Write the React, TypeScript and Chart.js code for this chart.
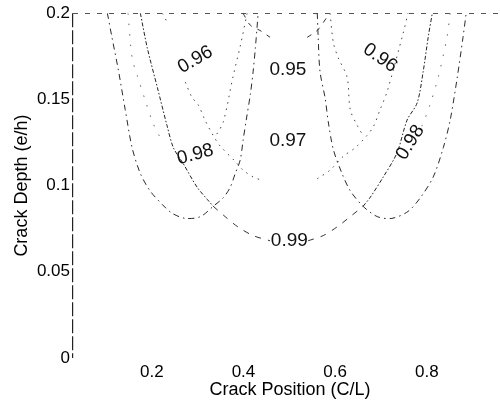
import React, { useEffect, useRef } from 'react';
import { Chart, registerables } from 'chart.js';

Chart.register(...registerables);

// ---- axes ----
const X_MIN = 0.028;
const X_MAX = 0.975;
const Y_MIN = 0;
const Y_MAX = 0.2;
const xTickValues = [0.2, 0.4, 0.6, 0.8];
const xTickLabels = ['0.2', '0.4', '0.6', '0.8'];
const yTickValues = [0, 0.05, 0.1, 0.15, 0.2];
const yTickLabels = ['0', '0.05', '0.1', '0.15', '0.2'];
const xTitle = 'Crack Position (C/L)';
const yTitle = 'Crack Depth (e/h)';

type Pt = [number, number] | null;

// ---- contour lines (crack position, crack depth) ----
const outerLeftU: Pt[] = [
  [0.103, 0.2], [0.113, 0.186], [0.127, 0.167], [0.142, 0.144], [0.157, 0.122],
  [0.175, 0.107], [0.196, 0.097], [0.223, 0.089], [0.244, 0.084], [0.273, 0.081],
  [0.306, 0.082], [0.334, 0.088], [0.356, 0.093], [0.371, 0.099], [0.382, 0.107],
  [0.393, 0.115], [0.399, 0.126], [0.406, 0.138], [0.415, 0.153], [0.421, 0.166],
  [0.426, 0.18], [0.432, 0.2],
];
const outerRightU: Pt[] = [
  [0.561, 0.2], [0.563, 0.186], [0.567, 0.166], [0.578, 0.151], [0.585, 0.137],
  [0.596, 0.121], [0.615, 0.107], [0.633, 0.097], [0.661, 0.088], [0.692, 0.082],
  [0.724, 0.081], [0.759, 0.085], [0.786, 0.093], [0.814, 0.105], [0.836, 0.122],
  [0.851, 0.138], [0.866, 0.162], [0.879, 0.186], [0.886, 0.2],
];
const level098Left: Pt[] = [
  [0.175, 0.2], [0.19, 0.18], [0.212, 0.157], [0.233, 0.135], [0.247, 0.122],
  [0.268, 0.113], [0.299, 0.099], [0.321, 0.092], [0.334, 0.088],
];
const level098Right: Pt[] = [
  [0.661, 0.088], [0.676, 0.093], [0.705, 0.105], [0.735, 0.119], [0.757, 0.138],
  [0.779, 0.148], [0.792, 0.166], [0.803, 0.186], [0.812, 0.2],
];
const level099: Pt[] = [
  [0.334, 0.088], [0.36, 0.082], [0.388, 0.076], [0.421, 0.071], [0.458, 0.068],
  null,
  [0.541, 0.068], [0.574, 0.071], [0.604, 0.076], [0.633, 0.082], [0.661, 0.088],
];
const level095: Pt[] = [
  [0.399, 0.2], [0.415, 0.193], [0.436, 0.19], [0.458, 0.186],
  null,
  [0.539, 0.186], [0.561, 0.19], [0.583, 0.198],
];
const dottedW: Pt[] = [
  [0.223, 0.2], [0.233, 0.195],
  null,
  [0.273, 0.16], [0.288, 0.151], [0.301, 0.147], [0.316, 0.138], [0.334, 0.129],
  [0.349, 0.123], [0.382, 0.114], [0.399, 0.109], [0.421, 0.105], [0.441, 0.103],
  null,
  [0.561, 0.104], [0.589, 0.109], [0.618, 0.117], [0.644, 0.122], [0.666, 0.128],
  [0.683, 0.134], [0.698, 0.144], [0.714, 0.155], [0.748, 0.188], [0.759, 0.2],
];
const dottedLeftArm: Pt[] = [
  [0.408, 0.2], [0.393, 0.181], [0.377, 0.163], [0.356, 0.137], [0.34, 0.129],
];
const dottedRightArm: Pt[] = [
  [0.589, 0.2], [0.596, 0.183], [0.607, 0.174], [0.626, 0.163], [0.633, 0.144],
  [0.648, 0.135], [0.661, 0.129],
];
const faintLeft: Pt[] = [
  [0.148, 0.2], [0.157, 0.174], [0.168, 0.164], [0.185, 0.15], [0.203, 0.136], [0.218, 0.128],
];
const faintRight: Pt[] = [
  [0.851, 0.2], [0.844, 0.186], [0.825, 0.163], [0.807, 0.147], [0.79, 0.135], [0.775, 0.128],
];

// ---- inline contour labels ----
const labelTexts = ['0.96', '0.95', '0.96', '0.98', '0.97', '0.98', '0.99'];
const labelX = [0.295, 0.497, 0.698, 0.295, 0.497, 0.764, 0.5];
const labelY = [0.173, 0.167, 0.174, 0.118, 0.126, 0.125, 0.068];
const labelAngle = [-30, 0, 35, -15, 0, -58, 0];

const FONT = '"Liberation Sans", Arial, Helvetica, sans-serif';

function toData(pts: Pt[]) {
  const out: { x: number; y: number | null }[] = [];
  let lastX = 0;
  for (const p of pts) {
    if (p) {
      out.push({ x: p[0], y: p[1] });
      lastX = p[0];
    } else {
      out.push({ x: lastX, y: null });
    }
  }
  return out;
}

function lineSet(pts: Pt[], dash: number[], color: string, width = 1) {
  return {
    data: toData(pts),
    borderColor: color,
    borderWidth: width,
    borderDash: dash,
    pointRadius: 0,
    tension: 0.3,
    fill: false,
    spanGaps: false,
  };
}

const labelPlugin = {
  id: 'contourLabels',
  afterDatasetsDraw(chart: any) {
    const { ctx, scales } = chart;
    const xs = scales.x;
    const ys = scales.y;
    ctx.save();
    ctx.font = `19px ${FONT}`;
    ctx.fillStyle = '#111';
    ctx.textAlign = 'center';
    ctx.textBaseline = 'middle';
    labelTexts.forEach((t, i) => {
      const px = xs.getPixelForValue(labelX[i]);
      const py = ys.getPixelForValue(labelY[i]);
      ctx.save();
      ctx.translate(px, py);
      ctx.rotate((labelAngle[i] * Math.PI) / 180);
      ctx.fillText(t, 0, 0);
      ctx.restore();
    });
    ctx.restore();
  },
};

function labelFor(values: number[], labels: string[], v: number) {
  for (let i = 0; i < values.length; i++) {
    if (Math.abs(values[i] - v) < 1e-6) return labels[i];
  }
  return '';
}

export default function App() {
  const ref = useRef<HTMLCanvasElement | null>(null);

  useEffect(() => {
    if (!ref.current) return;
    const chart = new Chart(ref.current, {
      type: 'line',
      data: {
        datasets: [
          lineSet(outerLeftU, [6, 4, 1.5, 4], '#2a2a2a'),
          lineSet(outerRightU, [6, 4, 1.5, 4], '#2a2a2a'),
          lineSet(level098Left, [4, 2, 1.5, 2], '#222'),
          lineSet(level098Right, [4, 2, 1.5, 2], '#222'),
          lineSet(level099, [6, 7], '#333'),
          lineSet(level095, [5, 6], '#333'),
          lineSet(dottedW, [1.5, 5], '#444'),
          lineSet(dottedLeftArm, [1.5, 5], '#444'),
          lineSet(dottedRightArm, [1.5, 5], '#444'),
          lineSet(faintLeft, [1.5, 9], '#666'),
          lineSet(faintRight, [1.5, 9], '#666'),
        ] as any,
      },
      options: {
        responsive: false,
        devicePixelRatio: 1,
        animation: false,
        layout: { padding: { top: 13, right: 3, bottom: 0, left: 0 } },
        plugins: { legend: { display: false }, tooltip: { enabled: false } },
        scales: {
          x: {
            type: 'linear',
            min: X_MIN,
            max: X_MAX,
            afterBuildTicks: (s: any) => {
              s.ticks = [X_MIN, ...xTickValues].map((v) => ({ value: v }));
            },
            afterFit: (s: any) => {
              s.height = 45;
            },
            ticks: {
              callback: (v: any) => labelFor(xTickValues, xTickLabels, Number(v)),
              font: { family: FONT, size: 17 },
              color: '#000',
              padding: 4,
              maxRotation: 0,
              autoSkip: false,
            },
            grid: {
              drawTicks: false,
              lineWidth: 1.2,
              color: (c: any) => (c.index === 0 ? '#222' : 'rgba(0,0,0,0)'),
            },
            border: { display: false, dash: [14, 3] },
            title: {
              display: true,
              text: xTitle,
              font: { family: FONT, size: 18 },
              color: '#000',
              padding: { top: 0, bottom: 2 },
            },
          },
          y: {
            type: 'linear',
            min: Y_MIN,
            max: Y_MAX,
            afterBuildTicks: (s: any) => {
              s.ticks = yTickValues.map((v) => ({ value: v }));
            },
            afterFit: (s: any) => {
              s.width = 73;
            },
            ticks: {
              callback: (v: any) => labelFor(yTickValues, yTickLabels, Number(v)),
              font: { family: FONT, size: 17 },
              color: '#000',
              padding: 3,
              autoSkip: false,
            },
            grid: {
              drawTicks: false,
              lineWidth: 1,
              color: (c: any) =>
                c.tick && Math.abs(c.tick.value - Y_MAX) < 1e-6 ? '#555' : 'rgba(0,0,0,0)',
            },
            border: { display: false, dash: [5, 7] },
            title: {
              display: true,
              text: yTitle,
              font: { family: FONT, size: 18 },
              color: '#000',
              padding: { top: 11, bottom: 0 },
            },
          },
        },
      },
      plugins: [labelPlugin],
    } as any);
    return () => chart.destroy();
  }, []);

  return (
    <div
      style={{
        position: 'fixed',
        left: 0,
        top: 0,
        width: 500,
        height: 403,
        overflow: 'hidden',
        background: '#fff',
      }}
    >
      <canvas ref={ref} width={510} height={403} style={{ display: 'block', width: 510, height: 403 }} />
    </div>
  );
}
